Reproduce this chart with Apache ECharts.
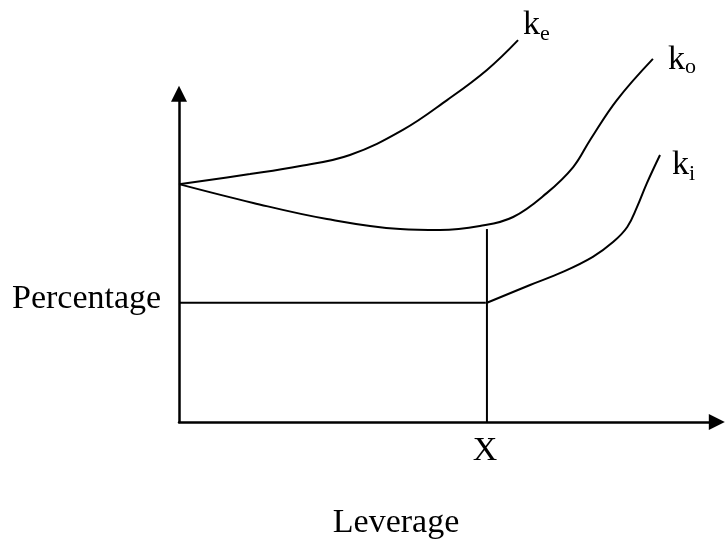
<!DOCTYPE html>
<html>
<head>
<meta charset="utf-8">
<script src="https://cdn.jsdelivr.net/npm/echarts@6/dist/echarts.min.js"></script>
<style>
  html, body { margin: 0; padding: 0; background: #fff; }
  #main { width: 725px; height: 542px; }
</style>
</head>
<body>
<div id="main"></div>
<script>
// cost of equity k_e
const keX = [0, 13.0, 22.2, 31.3, 41.0, 49.1, 56.4, 62.1];
const keY = [71.0, 74.0, 76.4, 79.7, 87.2, 96.1, 105.1, 114.0];
// overall cost k_o
const koX = [0, 13.6, 27.1, 40.5, 47.8, 55.1, 61.2, 67.4, 72.2, 75.3, 80.2, 86.8];
const koY = [71.0, 65.4, 60.6, 57.6, 57.3, 58.5, 61.2, 68.4, 76.1, 84.2, 96.1, 108.4];
// cost of debt k_i (rises after X)
const kiX = [56.4, 64.3, 70.3, 75.8, 79.5, 82.1, 83.9, 85.7, 88.1];
const kiY = [35.6, 40.9, 44.8, 49.3, 53.7, 58.2, 64.2, 71.3, 79.7];
// flat part of k_i and the X marker
const flatX = [0, 56.2];
const flatY = [35.6, 35.6];
const markX = [56.4, 56.4];
const markY = [0, 57.6];

const zip = (xs, ys) => xs.map((x, i) => [x, ys[i]]);
const serif = '"Liberation Serif", "Times New Roman", serif';

const chart = echarts.init(document.getElementById('main'));

function lineSeries(xs, ys, smooth) {
  return {
    type: 'line',
    data: zip(xs, ys),
    symbol: 'none',
    smooth: smooth,
    clip: false,
    silent: true,
    lineStyle: { color: '#000', width: 2 }
  };
}

function txt(x, y, s, size, align) {
  return {
    type: 'text',
    x: x, y: y,
    style: {
      text: s,
      font: size + 'px ' + serif,
      fill: '#000',
      align: align || 'left',
      verticalAlign: 'middle'
    }
  };
}

const option = {
  animation: false,
  grid: { left: 179, right: 8.2, top: 93.7, bottom: 120 },
  xAxis: {
    type: 'value', min: 0, max: 98.5,
    axisLine: { lineStyle: { color: '#000', width: 2.5 }, symbol: ['none', 'triangle'], symbolSize: [16, 16] },
    axisTick: { show: false }, axisLabel: { show: false }, splitLine: { show: false }
  },
  yAxis: {
    type: 'value', min: 0, max: 98,
    axisLine: { lineStyle: { color: '#000', width: 2.5 }, symbol: ['none', 'triangle'], symbolSize: [16, 16] },
    axisTick: { show: false }, axisLabel: { show: false }, splitLine: { show: false }
  },
  series: [
    lineSeries(keX, keY, 0.4),
    lineSeries(koX, koY, 0.4),
    lineSeries(kiX, kiY, 0.4),
    lineSeries(flatX, flatY, false),
    lineSeries(markX, markY, false)
  ],
  graphic: [
    txt(12, 299, 'Percentage', 34),
    txt(485, 451, 'X', 34, 'center'),
    txt(396, 523, 'Leverage', 34, 'center'),
    txt(523, 25, 'k', 34), txt(540, 34, 'e', 22),
    txt(668, 60, 'k', 34), txt(685, 67, 'o', 22),
    txt(672, 165, 'k', 34), txt(689, 174, 'i', 22)
  ]
};

chart.setOption(option);
</script>
</body>
</html>
